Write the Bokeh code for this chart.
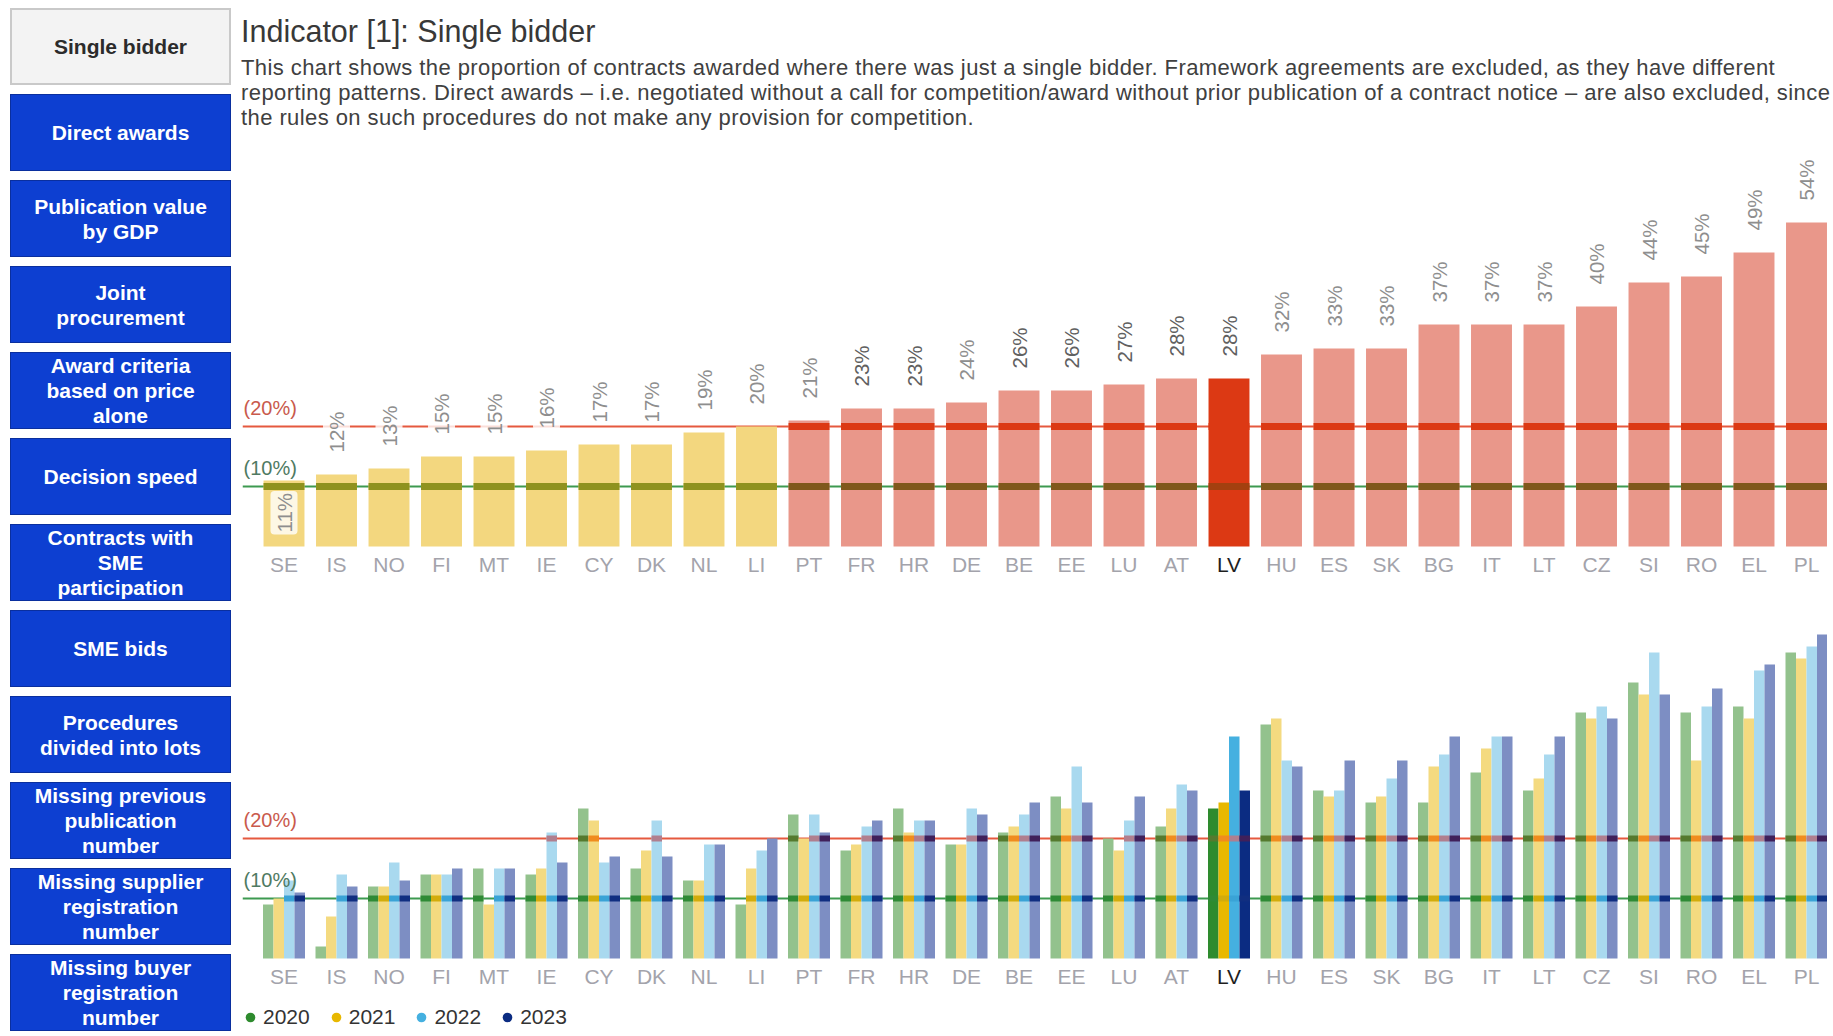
import math
from bokeh.plotting import figure
from bokeh.models import (Range1d, FixedTicker, Span, Label, Div, ColumnDataSource,
                          Legend, LegendItem)
from bokeh.layouts import row, column
from bokeh.embed import file_html
from bokeh.resources import INLINE
from bokeh.transform import dodge
from bokeh.core.properties import value

# ---------------- data ----------------
countries = ["SE", "IS", "NO", "FI", "MT", "IE", "CY", "DK", "NL", "LI",
             "PT", "FR", "HR", "DE", "BE", "EE", "LU", "AT", "LV", "HU",
             "ES", "SK", "BG", "IT", "LT", "CZ", "SI", "RO", "EL", "PL"]
share_2020 = [9, 2, 12, 14, 15, 14, 25, 15, 13, 9, 24, 18, 25, 19, 21, 27, 20, 22, 25, 39,
              28, 26, 26, 31, 28, 41, 46, 41, 42, 51]
share_2021 = [10, 7, 12, 14, 9, 15, 23, 18, 13, 15, 20, 19, 21, 19, 22, 25, 18, 25, 26, 40,
              27, 27, 32, 35, 30, 40, 44, 33, 40, 50]
share_2022 = [13, 14, 16, 14, 15, 21, 16, 23, 19, 18, 24, 22, 23, 25, 24, 32, 23, 29, 37, 33,
              28, 30, 34, 37, 34, 42, 51, 42, 48, 52]
share_2023 = [11, 12, 13, 15, 15, 16, 17, 17, 19, 20, 21, 23, 23, 24, 26, 26, 27, 28, 28, 32,
              33, 33, 37, 37, 37, 40, 44, 45, 49, 54]
years = ["2020", "2021", "2022", "2023"]
thresholds = [10, 20]
threshold_labels = ["(10%)", "(20%)"]
highlight = "LV"
inside_label = ["SE"]
dark_value_labels = ["FR", "HR", "BE", "EE", "LU", "AT", "LV"]

title_text = "Indicator [1]: Single bidder"
description_lines = [
    "This chart shows the proportion of contracts awarded where there was just a single bidder. Framework agreements are excluded, as they have different",
    "reporting patterns. Direct awards \u2013 i.e. negotiated without a call for competition/award without prior publication of a contract notice \u2013 are also excluded, since",
    "the rules on such procedures do not make any provision for competition.",
]
sidebar_items = [
    ["Single bidder"], ["Direct awards"], ["Publication value", "by GDP"],
    ["Joint", "procurement"], ["Award criteria", "based on price", "alone"],
    ["Decision speed"], ["Contracts with", "SME", "participation"], ["SME bids"],
    ["Procedures", "divided into lots"], ["Missing previous", "publication", "number"],
    ["Missing supplier", "registration", "number"], ["Missing buyer", "registration", "number"],
]

# ---------------- style ----------------
FONT = "Liberation Sans"
LINE_COL = {10: "#3d9a50", 20: "#e5593f"}
LABEL_COL = {10: "#4f7a62", 20: "#c95a4c"}
YELLOW, SALMON, LV_RED = "#f3d77f", "#e9978a", "#dc3914"
year_light = ["#93c28d", "#f4da80", "#a9d9ef", "#7d8ec3"]
year_strong = ["#2e8b2e", "#e8b800", "#45b0e0", "#0b2c82"]
band10 = ["#2f8a35", "#d2ac0c", "#3aa3d6", "#102e80"]
band20 = ["#557a2e", "#f08c1e", "#b07f8f", "#40205a"]
offsets = [-0.3, -0.1, 0.1, 0.3]

PX_PER_PCT = 6.0
X_START, X_END = -0.7905, 29.40
W = 1585

idx = list(range(len(countries)))
tick_labels = {i: ("" if c == highlight else c) for i, c in enumerate(countries)}
hi = countries.index(highlight)


def make_fig(height, below_px):
    # frame covers the whole figure; the category axis is pinned at 0 inside it
    p = figure(width=W, height=height, x_range=Range1d(X_START, X_END),
               y_range=Range1d(-below_px / PX_PER_PCT, (height - below_px) / PX_PER_PCT),
               output_backend="svg", toolbar_location=None, y_axis_location=None,
               min_border_left=0, min_border_right=0, min_border_top=0,
               min_border_bottom=0, outline_line_color=None)
    p.grid.visible = False
    ax = p.xaxis[0]
    ax.fixed_location = 0
    ax.ticker = FixedTicker(ticks=idx)
    ax.major_label_overrides = tick_labels
    ax.axis_line_color = None
    ax.major_tick_line_color = None
    ax.minor_tick_line_color = None
    ax.major_label_standoff = 0
    ax.major_label_text_font = FONT
    ax.major_label_text_font_size = "21px"
    ax.major_label_text_color = "#a3a3ab"
    p.add_layout(Label(x=hi, y=0, x_units="data", y_units="data", y_offset=-18,
                       text=highlight, text_align="center", text_baseline="middle",
                       text_font=FONT, text_font_size="21px", text_color="#1e1e1e"))
    for t, lab in zip(thresholds, threshold_labels):
        p.add_layout(Span(location=t, dimension="width", line_color=LINE_COL[t],
                          line_width=2.2, level="underlay"))
        p.add_layout(Label(x=1, x_units="screen", y=t, y_units="data", y_offset=8,
                           text=lab, text_baseline="bottom", text_align="left",
                           text_font=FONT, text_font_size="20px", text_color=LABEL_COL[t]))
    return p


# ---------------- top chart ----------------
top = make_fig(450, 46)

top_colors = [LV_RED if c == highlight else (YELLOW if v <= thresholds[1] else SALMON)
              for c, v in zip(countries, share_2023)]
src_top = ColumnDataSource(dict(
    x=idx, v=share_2023, color=top_colors,
    label=[f"{v}%" for v in share_2023],
    yoff=[54 if c in inside_label else -20 for c in countries],
    lcol=["#606060" if c in dark_value_labels else "#8e8e8e" for c in countries],
))
top.vbar(x="x", top="v", width=0.78, fill_color="color", line_color=None, source=src_top)

for t in thresholds:
    sel = [i for i, v in enumerate(share_2023) if v > t]
    if t == 10:
        cols = ["#a3400f" if countries[i] == highlight else
                ("#8f921e" if share_2023[i] <= thresholds[1] else "#80581c") for i in sel]
    else:
        cols = [LV_RED for i in sel]
    top.rect(x=sel, y=[t] * len(sel), width=0.78, height=7, height_units="screen",
             fill_color=cols, line_color=None)

top.text(x="x", y="v", text="label", source=src_top, angle=math.pi / 2,
         text_align="left", text_baseline="middle", y_offset="yoff",
         text_font=value(FONT), text_font_size="20.5px", text_color="lcol",
         background_fill_color="white", background_fill_alpha=0.8,
         border_radius=4, padding=2)

# ---------------- bottom chart ----------------
bot = make_fig(438, 72)

series = [share_2020, share_2021, share_2022, share_2023]
for k, vals in enumerate(series):
    cols = [year_strong[k] if c == highlight else year_light[k] for c in countries]
    src = ColumnDataSource(dict(x=idx, v=vals, color=cols))
    bot.vbar(x=dodge("x", offsets[k], range=bot.x_range), top="v", width=0.2,
             fill_color="color", line_color=None, source=src)
    for t, bcols in zip(thresholds, [band10, band20]):
        sel = [i for i, v in enumerate(vals) if v > t]
        bsrc = ColumnDataSource(dict(x=sel, t=[t] * len(sel)))
        bot.rect(x=dodge("x", offsets[k], range=bot.x_range), y="t", width=0.2,
                 height=6, height_units="screen", fill_color=bcols[k], line_color=None,
                 source=bsrc)

# legend swatches: one (undrawn, NaN-positioned) entry per year, coloured by year
legend_src = ColumnDataSource(dict(year=years, color=year_strong,
                                   x=[float("nan")] * len(years), y=[float("nan")] * len(years)))
legend_r = bot.scatter(x="x", y="y", marker="circle", size=10, fill_color="color",
                       line_color=None, source=legend_src)
legend = Legend(items=[LegendItem(label=y, renderers=[legend_r], index=k)
                       for k, y in enumerate(years)],
                location=(-5, 1), orientation="horizontal", glyph_width=26, glyph_height=24,
                label_standoff=-6, spacing=13, padding=0, margin=0, border_line_color=None,
                background_fill_alpha=0, label_text_font=FONT, label_text_font_size="21px",
                label_text_color="#333333", label_height=24)
bot.add_layout(legend)

# ---------------- header & sidebar ----------------
desc_html = "<br>".join(description_lines)
header = Div(width=W, height=132, text=(
    f"<div style=\"font-family:'{FONT}',Arial,sans-serif;width:1594px;height:132px;margin-left:-6px;overflow:hidden;white-space:nowrap;\">"
    f"<div style=\"font-size:30.5px;line-height:36px;margin-top:8px;color:#383838;\">{title_text}</div>"
    f"<div style=\"font-size:22px;letter-spacing:0.42px;line-height:25px;margin-top:6px;color:#404040;\">{desc_html}</div>"
    "</div>"))

btns = []
for i, lines in enumerate(sidebar_items):
    first = i == 0
    bg = "#f3f3f3" if first else "#0d3fd1"
    border = "2px solid #c9c9c9" if first else "1px solid #0a2f9e"
    col = "#2b2b2b" if first else "#ffffff"
    btns.append(
        f"<div style=\"position:absolute;left:5px;top:{3 + 86 * i}px;width:221px;height:77px;"
        f"box-sizing:border-box;background:{bg};border:{border};color:{col};"
        f"font-family:'{FONT}',Arial,sans-serif;font-weight:bold;font-size:21px;line-height:25px;"
        f"display:flex;align-items:center;justify-content:center;text-align:center;\">"
        f"<div>{'<br>'.join(lines)}</div></div>")
sidebar = Div(width=232, height=1020, text=(
    "<div style=\"position:relative;width:232px;height:1028px;overflow:hidden;\">"
    + "".join(btns) + "</div>"))

layout = row(sidebar, column(header, top, bot))
open("out.html", "w").write(file_html(layout, INLINE))
